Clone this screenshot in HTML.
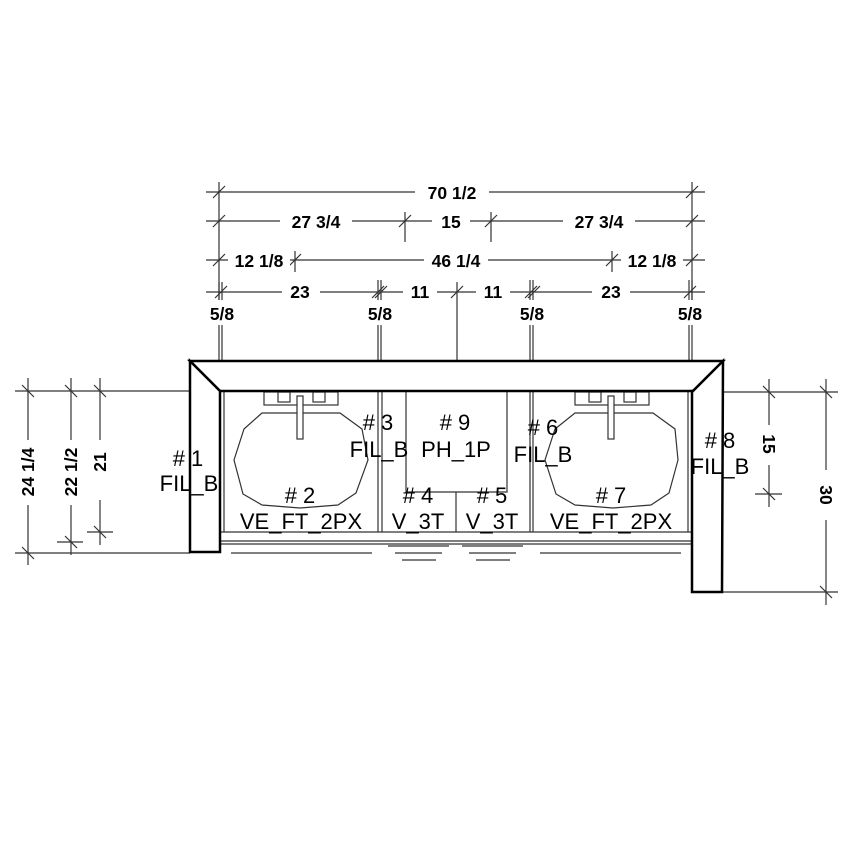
<!DOCTYPE html>
<html><head><meta charset="utf-8"><style>
html,body{margin:0;padding:0;background:#fff}
svg{display:block}
.d{font-family:"Liberation Sans",Arial,sans-serif;font-weight:bold;font-size:17.5px;fill:#000}
.l{font-family:"Liberation Sans",Arial,sans-serif;font-size:22px;fill:#000}
</style></head><body>
<svg width="855" height="855" viewBox="0 0 855 855" xmlns="http://www.w3.org/2000/svg">
<g stroke="#333" stroke-width="1.2" fill="none">
<line x1="206" y1="192" x2="705" y2="192"/>
<line x1="206" y1="221" x2="705" y2="221"/>
<line x1="206" y1="260" x2="705" y2="260"/>
<line x1="206" y1="292" x2="705" y2="292"/>
<line x1="219" y1="182" x2="219" y2="300"/>
<line x1="692" y1="182" x2="692" y2="300"/>
<line x1="405" y1="212" x2="405" y2="242"/>
<line x1="491" y1="212" x2="491" y2="242"/>
<line x1="295" y1="251" x2="295" y2="272"/>
<line x1="612" y1="251" x2="612" y2="272"/>
<line x1="213" y1="198" x2="225" y2="186"/><line x1="686" y1="198" x2="698" y2="186"/>
<line x1="213" y1="227" x2="225" y2="215"/><line x1="399" y1="227" x2="411" y2="215"/><line x1="485" y1="227" x2="497" y2="215"/><line x1="686" y1="227" x2="698" y2="215"/>
<line x1="213" y1="266" x2="225" y2="254"/><line x1="289" y1="266" x2="301" y2="254"/><line x1="606" y1="266" x2="618" y2="254"/><line x1="686" y1="266" x2="698" y2="254"/>
<line x1="215" y1="298" x2="227" y2="286"/><line x1="372" y1="298" x2="384" y2="286"/><line x1="375" y1="298" x2="387" y2="286"/><line x1="451" y1="298" x2="463" y2="286"/><line x1="525" y1="298" x2="537" y2="286"/><line x1="528" y1="298" x2="540" y2="286"/><line x1="684" y1="298" x2="696" y2="286"/>
<line x1="219" y1="282" x2="219" y2="300"/><line x1="222" y1="282" x2="222" y2="300"/>
<line x1="219" y1="325" x2="219" y2="361"/><line x1="222" y1="325" x2="222" y2="361"/>
<line x1="378" y1="280" x2="378" y2="300"/><line x1="381" y1="280" x2="381" y2="300"/>
<line x1="378" y1="325" x2="378" y2="361"/><line x1="381" y1="325" x2="381" y2="361"/>
<line x1="457" y1="282" x2="457" y2="361"/>
<line x1="530" y1="280" x2="530" y2="300"/><line x1="533" y1="280" x2="533" y2="300"/>
<line x1="530" y1="325" x2="530" y2="361"/><line x1="533" y1="325" x2="533" y2="361"/>
<line x1="689" y1="280" x2="689" y2="300"/><line x1="692" y1="280" x2="692" y2="300"/>
<line x1="689" y1="325" x2="689" y2="361"/><line x1="692" y1="325" x2="692" y2="361"/>
<line x1="15" y1="391" x2="190" y2="391"/>
<line x1="15" y1="553" x2="190" y2="553"/>
<line x1="28" y1="378" x2="28" y2="440"/><line x1="28" y1="505" x2="28" y2="565"/>
<line x1="71" y1="378" x2="71" y2="440"/><line x1="71" y1="505" x2="71" y2="555"/>
<line x1="100" y1="378" x2="100" y2="440"/><line x1="100" y1="500" x2="100" y2="545"/>
<line x1="57" y1="542" x2="83" y2="542"/>
<line x1="87" y1="532" x2="113" y2="532"/>
<line x1="22" y1="385" x2="34" y2="397"/><line x1="65" y1="385" x2="77" y2="397"/><line x1="94" y1="385" x2="106" y2="397"/>
<line x1="22" y1="547" x2="34" y2="559"/><line x1="65" y1="536" x2="77" y2="548"/><line x1="94" y1="526" x2="106" y2="538"/>
<line x1="722" y1="392" x2="838" y2="392"/>
<line x1="722" y1="592" x2="838" y2="592"/>
<line x1="769" y1="379" x2="769" y2="425"/><line x1="769" y1="465" x2="769" y2="507"/>
<line x1="755" y1="494" x2="782" y2="494"/>
<line x1="826" y1="379" x2="826" y2="470"/><line x1="826" y1="520" x2="826" y2="605"/>
<line x1="763" y1="386" x2="775" y2="398"/><line x1="763" y1="488" x2="775" y2="500"/>
<line x1="820" y1="386" x2="832" y2="398"/><line x1="820" y1="586" x2="832" y2="598"/>
<line x1="224" y1="391" x2="224" y2="532"/>
<line x1="378" y1="391" x2="378" y2="532"/><line x1="382" y1="391" x2="382" y2="532"/>
<polyline points="406,391 406,492 507,492 507,391"/>
<line x1="456" y1="492" x2="456" y2="532"/>
<line x1="530" y1="391" x2="530" y2="532"/><line x1="533" y1="391" x2="533" y2="532"/>
<line x1="688" y1="391" x2="688" y2="532"/>
<line x1="220" y1="532" x2="692" y2="532"/>
<line x1="220" y1="541" x2="692" y2="541"/>
<line x1="220" y1="544" x2="692" y2="544"/>
<line x1="231" y1="553" x2="372" y2="553"/><line x1="540" y1="553" x2="681" y2="553"/>
<line x1="388" y1="546" x2="449" y2="546"/><line x1="462" y1="546" x2="523" y2="546"/>
<line x1="395" y1="553" x2="442" y2="553"/><line x1="469" y1="553" x2="516" y2="553"/>
<line x1="402" y1="560" x2="436" y2="560"/><line x1="476" y1="560" x2="510" y2="560"/>
<polygon points="262,413 340,413 362,429 368,460 356,493 338,505 300,508 262,505 243,494 234,460 244,429"/>
<polygon points="575,413 653,413 675,429 678,460 669,493 651,505 613,508 575,505 556,494 545,460 555,429"/>
<rect x="264" y="392" width="74" height="13"/><rect x="278" y="392" width="12" height="10"/><rect x="313" y="392" width="12" height="10"/>
<rect x="297" y="396" width="6" height="43" fill="#fff"/>
<rect x="575" y="392" width="74" height="13"/><rect x="589" y="392" width="12" height="10"/><rect x="624" y="392" width="12" height="10"/>
<rect x="608" y="396" width="6" height="43" fill="#fff"/>
</g>
<g stroke="#000" stroke-width="2.5" fill="#fff">
<polygon points="190,361 723,361 693,391 220,391"/>
<polygon points="190,361 220,391 220,552 190,552"/>
<polygon points="723,361 722,592 692,592 692,391 693,391"/>
</g>
<g class="d">
<rect x="415" y="180" width="74" height="22" fill="#fff"/>
<text x="452" y="199" text-anchor="middle">70 1/2</text>
<rect x="280" y="210" width="72" height="22" fill="#fff"/>
<text x="316" y="228" text-anchor="middle">27 3/4</text>
<rect x="432" y="210" width="38" height="22" fill="#fff"/>
<text x="451" y="228" text-anchor="middle">15</text>
<rect x="563" y="210" width="72" height="22" fill="#fff"/>
<text x="599" y="228" text-anchor="middle">27 3/4</text>
<rect x="228" y="248" width="62" height="22" fill="#fff"/>
<text x="259" y="267" text-anchor="middle">12 1/8</text>
<rect x="424" y="248" width="64" height="22" fill="#fff"/>
<text x="456" y="267" text-anchor="middle">46 1/4</text>
<rect x="621" y="248" width="62" height="22" fill="#fff"/>
<text x="652" y="267" text-anchor="middle">12 1/8</text>
<rect x="282" y="280" width="38" height="22" fill="#fff"/>
<text x="300" y="298" text-anchor="middle">23</text>
<rect x="403" y="280" width="34" height="22" fill="#fff"/>
<text x="420" y="298" text-anchor="middle">11</text>
<rect x="476" y="280" width="34" height="22" fill="#fff"/>
<text x="493" y="298" text-anchor="middle">11</text>
<rect x="592" y="280" width="38" height="22" fill="#fff"/>
<text x="611" y="298" text-anchor="middle">23</text>
<text x="222" y="320" text-anchor="middle">5/8</text>
<text x="380" y="320" text-anchor="middle">5/8</text>
<text x="532" y="320" text-anchor="middle">5/8</text>
<text x="690" y="320" text-anchor="middle">5/8</text>
<text transform="translate(34,472) rotate(-90)" text-anchor="middle">24 1/4</text>
<text transform="translate(77,472) rotate(-90)" text-anchor="middle">22 1/2</text>
<text transform="translate(106,462) rotate(-90)" text-anchor="middle">21</text>
<text transform="translate(763,444) rotate(90)" text-anchor="middle">15</text>
<text transform="translate(820,495) rotate(90)" text-anchor="middle">30</text>
</g>
<g class="l">
<text x="188" y="466" text-anchor="middle"># 1</text>
<text x="189" y="491" text-anchor="middle">FIL_B</text>
<text x="300" y="503" text-anchor="middle"># 2</text>
<text x="301" y="529" text-anchor="middle">VE_FT_2PX</text>
<text x="378" y="430" text-anchor="middle"># 3</text>
<text x="379" y="457" text-anchor="middle">FIL_B</text>
<text x="455" y="430" text-anchor="middle"># 9</text>
<text x="456" y="457" text-anchor="middle">PH_1P</text>
<text x="418" y="503" text-anchor="middle"># 4</text>
<text x="418" y="529" text-anchor="middle">V_3T</text>
<text x="492" y="503" text-anchor="middle"># 5</text>
<text x="492" y="529" text-anchor="middle">V_3T</text>
<text x="543" y="435" text-anchor="middle"># 6</text>
<text x="543" y="462" text-anchor="middle">FIL_B</text>
<text x="611" y="503" text-anchor="middle"># 7</text>
<text x="611" y="529" text-anchor="middle">VE_FT_2PX</text>
<text x="720" y="448" text-anchor="middle"># 8</text>
<text x="720" y="474" text-anchor="middle">FIL_B</text>
</g>
</svg>
</body></html>
